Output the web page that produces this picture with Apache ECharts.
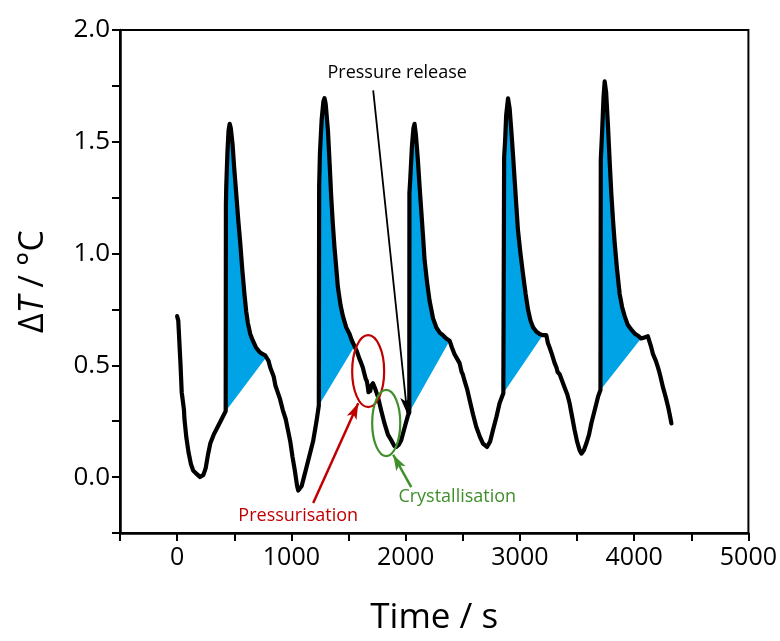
<!DOCTYPE html>
<html>
<head>
<meta charset="utf-8">
<script src="https://cdn.jsdelivr.net/npm/echarts@6/dist/echarts.min.js"></script>
<style>
html,body{margin:0;padding:0;background:#fff;}
#c{width:780px;height:641px;}
</style>
</head>
<body>
<div id="c"></div>
<script>
// ---- data (time / s, ΔT / °C) ----
const curve = [
 [0,0.72],[10,0.70],[20,0.60],[30,0.50],[40,0.38],[45,0.36],[50,0.34],[60,0.30],[64,0.26],[80,0.18],[100,0.11],[120,0.06],[140,0.03],[160,0.02],[180,0.01],[200,0.0],[215,-0.005],[230,0.01],[250,0.04],[270,0.10],[290,0.15],[320,0.19],[350,0.22],[380,0.25],[410,0.28],[425,0.295],
 [427,1.22],[430,1.30],[440,1.45],[450,1.55],[460,1.58],[470,1.56],[485,1.49],[500,1.38],[517,1.27],[535,1.15],[552,1.05],[570,0.93],[589,0.82],[605,0.74],[619,0.69],[640,0.64],[663,0.61],[690,0.58],[721,0.56],[750,0.55],[770,0.545],[785,0.54],[800,0.52],[815,0.49],[830,0.47],[845,0.45],[860,0.41],[880,0.38],[900,0.35],[925,0.30],[950,0.26],[970,0.21],[990,0.16],[1010,0.09],[1030,0.03],[1050,-0.04],[1060,-0.06],[1075,-0.065],[1090,-0.04],[1110,0.0],[1130,0.04],[1160,0.10],[1190,0.16],[1220,0.25],[1240,0.32],
 [1243,1.30],[1250,1.45],[1265,1.60],[1280,1.68],[1290,1.695],[1300,1.67],[1320,1.55],[1335,1.40],[1349,1.25],[1363,1.13],[1377,1.03],[1392,0.94],[1407,0.85],[1430,0.77],[1451,0.72],[1480,0.67],[1509,0.64],[1530,0.61],[1553,0.585],
 [1575,0.56],[1595,0.53],[1611,0.51],[1625,0.49],[1640,0.46],[1650,0.44],[1660,0.43],[1670,0.40],[1675,0.38],[1680,0.40],[1690,0.385],[1700,0.41],[1714,0.42],[1730,0.40],[1757,0.36],[1785,0.30],[1815,0.24],[1845,0.19],[1874,0.165],[1900,0.14],[1918,0.135],[1940,0.145],[1961,0.165],[1990,0.22],[2020,0.275],[2032,0.29],
 [2033,1.27],[2040,1.33],[2055,1.48],[2068,1.56],[2078,1.58],[2090,1.53],[2107,1.42],[2122,1.30],[2137,1.19],[2152,1.08],[2166,0.97],[2188,0.87],[2209,0.79],[2240,0.71],[2268,0.67],[2300,0.645],[2326,0.635],[2355,0.62],[2385,0.61],
 [2405,0.58],[2428,0.55],[2450,0.53],[2472,0.51],[2490,0.47],[2500,0.46],[2516,0.43],[2540,0.39],[2560,0.345],[2590,0.28],[2618,0.225],[2650,0.18],[2677,0.15],[2712,0.135],[2740,0.16],[2764,0.21],[2795,0.27],[2822,0.33],[2855,0.375],
 [2862,1.43],[2870,1.50],[2880,1.62],[2896,1.694],[2910,1.65],[2925,1.55],[2940,1.44],[2954,1.33],[2968,1.22],[2983,1.105],[3005,1.00],[3027,0.91],[3050,0.82],[3071,0.75],[3093,0.70],[3115,0.67],[3145,0.65],[3173,0.64],[3200,0.635],
 [3231,0.635],[3245,0.60],[3260,0.58],[3280,0.55],[3304,0.51],[3320,0.49],[3330,0.47],[3348,0.46],[3370,0.43],[3392,0.40],[3415,0.37],[3435,0.33],[3457,0.27],[3479,0.21],[3500,0.16],[3523,0.12],[3538,0.105],[3560,0.12],[3581,0.15],[3605,0.19],[3625,0.24],[3655,0.30],[3684,0.36],[3705,0.39],
 [3708,1.42],[3720,1.55],[3732,1.70],[3742,1.77],[3755,1.72],[3771,1.57],[3785,1.42],[3800,1.27],[3815,1.15],[3830,1.045],[3850,0.93],[3873,0.82],[3895,0.76],[3917,0.72],[3945,0.68],[3975,0.66],[4010,0.64],[4040,0.63],[4060,0.62],
 [4090,0.625],[4120,0.63],[4136,0.63],[4150,0.58],[4165,0.55],[4190,0.52],[4209,0.49],[4220,0.47],[4230,0.45],[4253,0.40],[4275,0.36],[4297,0.315],[4315,0.27],[4326,0.24]
];
const fillStart = [425, 1240, 2032, 2855, 3705];
const fillEnd   = [785, 1553, 2385, 3200, 4060];

const xTicks = [0, 1000, 2000, 3000, 4000, 5000];
const yTicks = [0.0, 0.5, 1.0, 1.5, 2.0];

// annotations in data coordinates
const releaseLine = [[1716, 1.73], [2014, 0.285]];
const redArrow = [[1191, -0.116], [1585, 0.33]];
const greenArrow = [[2049, -0.045], [1891, 0.10]];
const redEllipse = [1672, 0.474, 140, 0.161];   // cx, cy, rx, ry
const greenEllipse = [1830, 0.242, 123, 0.148];
const labelTexts = ['Pressure release', 'Pressurisation', 'Crystallisation'];
const labelPos = [[1926, 1.81], [1060, -0.175], [2452, -0.09]];

const RED = '#c00000', GREEN = '#3f8f2a', BLUE = '#00a3e6';
const FONT = 'Open Sans';

const chart = echarts.init(document.getElementById('c'), null, {renderer: 'canvas'});

const fills = fillStart.map((s, i) => [s, fillEnd[i]]);

chart.setOption({
  animation: false,
  backgroundColor: '#fff',
  grid: {left: 120, right: 30, top: 30, bottom: 108, show: true, borderColor: '#000', borderWidth: 2, containLabel: false},
  xAxis: {
    type: 'value', min: -500, max: 5000, interval: 500,
    name: 'Time / s', nameLocation: 'middle', nameGap: 68,
    nameTextStyle: {fontFamily: FONT, fontSize: 35, color: '#000'},
    axisLine: {show: true, onZero: false, lineStyle: {color: '#000', width: 2.5}},
    axisTick: {show: true, inside: false, length: 8, lineStyle: {color: '#000', width: 2}},
    axisLabel: {
      fontFamily: FONT, fontSize: 25, color: '#000', margin: 12,
      formatter: v => xTicks.indexOf(v) >= 0 ? String(v) : ''
    },
    splitLine: {show: false}
  },
  yAxis: {
    type: 'value', min: -0.25, max: 2.0, interval: 0.25,
    name: '{n|Δ}{i|T}{n| / °C}', nameLocation: 'middle', nameGap: 70, nameRotate: 90,
    nameTextStyle: {
      fontFamily: FONT, fontSize: 34, color: '#000',
      rich: {
        n: {fontFamily: FONT, fontSize: 34, color: '#000'},
        i: {fontFamily: FONT, fontSize: 34, color: '#000', fontStyle: 'italic'}
      }
    },
    axisLine: {show: true, onZero: false, lineStyle: {color: '#000', width: 2.5}},
    axisTick: {show: true, inside: false, length: 8, lineStyle: {color: '#000', width: 2}},
    axisLabel: {
      fontFamily: FONT, fontSize: 26, color: '#000', margin: 10,
      formatter: v => {
        for (const t of yTicks) if (Math.abs(t - v) < 1e-9) return t.toFixed(1);
        return '';
      }
    },
    splitLine: {show: false}
  },
  series: [
    {
      type: 'custom',
      data: fills,
      encode: {x: [0, 1]},
      z: 1,
      silent: true,
      renderItem: (params, api) => {
        const s = api.value(0), e = api.value(1);
        const pts = curve.filter(p => p[0] >= s && p[0] <= e).map(p => api.coord(p));
        return {type: 'polygon', shape: {points: pts}, style: {fill: BLUE, stroke: null}};
      }
    },
    {
      type: 'line',
      data: curve,
      showSymbol: false,
      symbol: 'none',
      z: 3,
      lineStyle: {color: '#000', width: 4.2, join: 'round', cap: 'round'},
      silent: true
    },
    {
      type: 'line',
      data: [],
      z: 4,
      silent: true,
      markLine: {
        silent: true,
        animation: false,
        label: {show: false},
        symbol: ['none', 'arrow'],
        data: [
          [{coord: releaseLine[0], lineStyle: {color: '#000', width: 1.8, type: 'solid'}, symbolSize: 7}, {coord: releaseLine[1]}],
          [{coord: redArrow[0], lineStyle: {color: RED, width: 2.5, type: 'solid'}, symbolSize: 11}, {coord: redArrow[1]}],
          [{coord: greenArrow[0], lineStyle: {color: GREEN, width: 2.5, type: 'solid'}, symbolSize: 11}, {coord: greenArrow[1]}]
        ]
      }
    }
  ]
});

function ellipseGraphic(e, color) {
  const c = chart.convertToPixel({gridIndex: 0}, [e[0], e[1]]);
  const r = chart.convertToPixel({gridIndex: 0}, [e[0] + e[2], e[1] + e[3]]);
  return {type: 'ellipse', z: 10, silent: true,
    shape: {cx: c[0], cy: c[1], rx: Math.abs(r[0] - c[0]), ry: Math.abs(c[1] - r[1])},
    style: {fill: null, stroke: color, lineWidth: 2.2}};
}
const textColors = ['#000', RED, GREEN];
const textSizes = [18, 18, 18];
const graphics = [ellipseGraphic(redEllipse, RED), ellipseGraphic(greenEllipse, GREEN)];
labelTexts.forEach((t, i) => {
  const p = chart.convertToPixel({gridIndex: 0}, labelPos[i]);
  graphics.push({type: 'text', z: 10, silent: true, x: p[0], y: p[1],
    style: {text: t, fill: textColors[i], font: textSizes[i] + 'px "' + FONT + '"', textAlign: 'center', textVerticalAlign: 'middle'}});
});
chart.setOption({graphic: graphics});
</script>
</body>
</html>
